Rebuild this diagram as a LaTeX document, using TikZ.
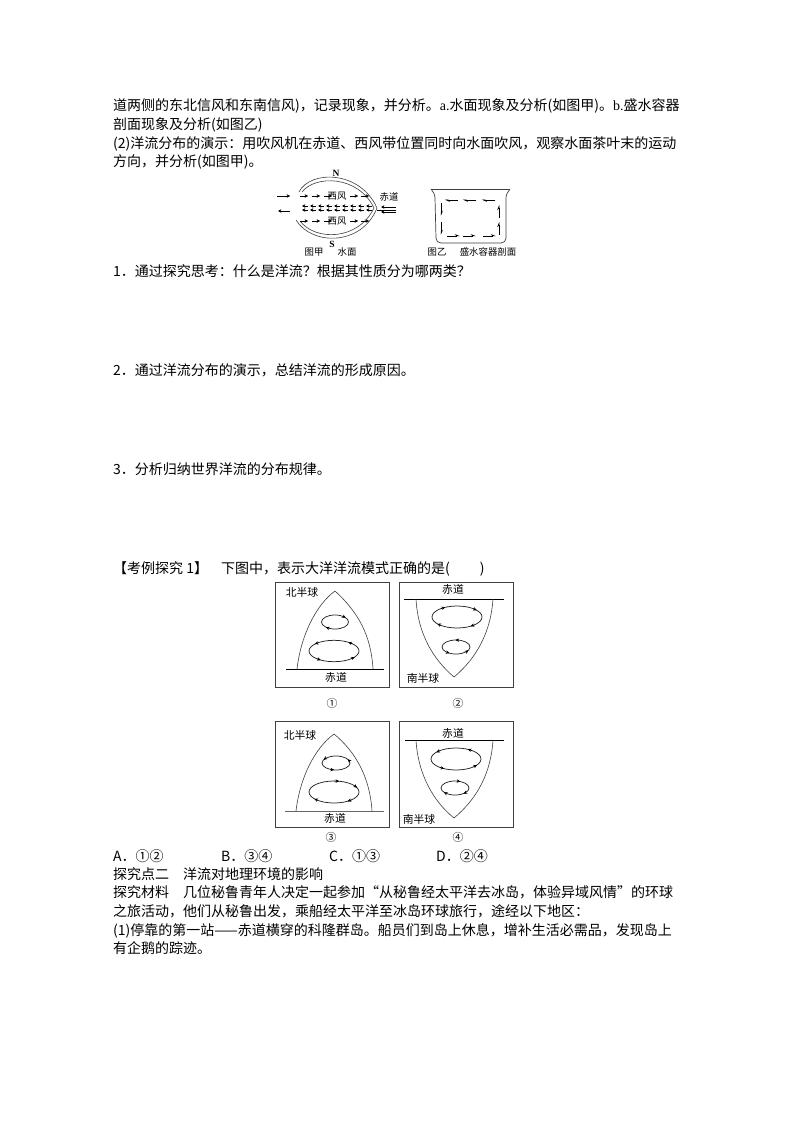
\documentclass[tikz,border=0pt]{standalone}
\usepackage{fontspec}
\setmainfont{Noto Sans CJK SC}
\newfontfamily\latf{Liberation Serif}
\newcommand{\lat}[1]{{\latf #1}}
\usetikzlibrary{arrows.meta}
\tikzset{
 txt/.style={anchor=base west,inner sep=0pt,font=\fontsize{14}{16}\selectfont},
 lab/.style={inner sep=0pt,font=\fontsize{10.8}{12}\selectfont},
 small/.style={inner sep=0pt,font=\fontsize{9.4}{11}\selectfont},
 pole/.style={inner sep=0pt,font=\fontsize{9.5}{11}\latf\bfseries\selectfont},
 panel/.style={draw=black!75,line width=0.9pt},
 coast/.style={draw=black!75,line width=0.6pt},
 eqline/.style={draw=black,line width=0.8pt},
 gyre/.style={draw=black!85,line width=0.75pt},
 flow/.style={draw=black,line width=0.45pt,-{Stealth[length=3.4pt,width=3.4pt]}},
 harp/.style={draw=black,line width=0.5pt,-{Stealth[harpoon,length=4.5pt,width=3.6pt]}},
 tipm/.style={-{Stealth[length=3.6pt,width=3.4pt]},draw=black,line width=0.5pt},
}
\newcommand{\gy}[4]{\draw[gyre] (#1,#2) ellipse [x radius=#3,y radius=#4];}
% tip running clockwise on the page
\newcommand{\gytip}[5]{\draw[tipm] ({#1+#3*cos(#5)},{#2+#4*sin(#5)}) -- ({#1+#3*cos(#5+12)},{#2+#4*sin(#5+12)});}
% tip running counter-clockwise on the page
\newcommand{\gytipb}[5]{\draw[tipm] ({#1+#3*cos(#5)},{#2+#4*sin(#5)}) -- ({#1+#3*cos(#5-12)},{#2+#4*sin(#5-12)});}
\begin{document}
\begin{tikzpicture}[x=1pt,y=-1pt]
\useasboundingbox (0,0) rectangle (794,1123);
\fill[white] (0,0) rectangle (794,1123);
% body text
\node[txt] (t1) at (113,111) {道两侧的东北信风和东南信风)，记录现象，并分析。\lat{a.}水面现象及分析(如图甲)。\lat{b.}盛水容器};
\node[txt] (t2) at (113,130) {剖面现象及分析(如图乙)};
\node[txt] (t3) at (113,149) {(2)洋流分布的演示：用吹风机在赤道、西风带位置同时向水面吹风，观察水面茶叶末的运动};
\node[txt] (t4) at (113,167) {方向，并分析(如图甲)。};
\node[txt] (t5) at (113,276) {1．通过探究思考：什么是洋流？根据其性质分为哪两类？};
\node[txt] (t6) at (113,375) {2．通过洋流分布的演示，总结洋流的形成原因。};
\node[txt] (t7) at (113,474) {3．分析归纳世界洋流的分布规律。};
\node[txt] (t8) at (113,573) {【考例探究 1】};
\node[txt] (t9) at (221,573) {下图中，表示大洋洋流模式正确的是(\hspace{30pt})};
\node[txt] (a1) at (113,861) {A．①②};
\node[txt] (a2) at (221,861) {B．③④};
\node[txt] (a3) at (329,861) {C．①③};
\node[txt] (a4) at (436,861) {D．②④};
\node[txt] (t10) at (113,879) {探究点二\hspace{14pt}洋流对地理环境的影响};
\node[txt] (t11) at (113,897) {探究材料\hspace{14pt}几位秘鲁青年人决定一起参加“从秘鲁经太平洋去冰岛，体验异域风情”的环球};
\node[txt] (t12) at (113,916) {之旅活动，他们从秘鲁出发，乘船经太平洋至冰岛环球旅行，途经以下地区：};
\node[txt] (t13) at (113,935) {(1)停靠的第一站——赤道横穿的科隆群岛。船员们到岛上休息，增补生活必需品，发现岛上};
\node[txt] (t14) at (113,953) {有企鹅的踪迹。};
% figure jia
\draw[coast] (299,192) .. controls (310,170) and (360,170) .. (377,208) .. controls (362,246) and (312,246) .. (296,220);
\draw[coast] (302,192) .. controls (315,175) and (358,175) .. (374,208) .. controls (358,241) and (315,241) .. (300,221);
\node[small] (wa) at (337,196) {西风};
\node[small] (wb) at (337,221) {西风};
\foreach \x in {300,312,324,350,361}{\draw[flow] (\x,196) -- (\x+8,196);}
\foreach \x in {300,312,324,350,361}{\draw[flow] (\x,221) -- (\x+8,221);}
\foreach \x in {308,316,324,332,340,348,356,364,372}{\draw[flow] (\x,206) -- (\x-6,206);\draw[flow] (\x,210) -- (\x-6,210);}
\node[small] (eq0) at (389,197) {赤道};
\draw[black,line width=.5pt] (377,210) -- (396,210);
\draw[flow] (396,207) -- (381,207);
\draw[flow] (396,212) -- (381,212);
\draw[flow] (277,196) -- (290,196);
\draw[flow] (290,211) -- (278,211);
\node[pole] (nn) at (336,173) {N};
\node[pole] (ss) at (332,244) {S};
\node[small] (c1) at (314,252) {图甲};
\node[small] (c2) at (347,252) {水面};
% figure yi
\draw[coast,line width=.7pt] (431,189) -- (510,189);
\draw[coast,line width=.7pt] (431,189) .. controls (433,192) and (435,194) .. (435,198) -- (436,238) .. controls (436,241) and (438,243) .. (441,243) -- (501,243) .. controls (504,243) and (506,241) .. (506,238) -- (506,198) .. controls (506,194) and (508,192) .. (510,189);
\foreach \x in {445,463,482}{\draw[harp] (\x+13,200) -- (\x,200);}
\foreach \x in {447,463,483}{\draw[harp] (\x,236) -- (\x+13,236);}
\foreach \y in {203,222}{\draw[harp] (441,\y) -- (441,\y+13);}
\foreach \y in {205,222}{\draw[harp] (499,\y+13) -- (499,\y);}
\node[small] (c3) at (437,252) {图乙};
\node[small] (c4) at (488,252) {盛水容器剖面};
% panels
\draw[panel] (275,582) rectangle (389,687);
\draw[panel] (399,582) rectangle (513,687);
\draw[panel] (275,721) rectangle (389,827);
\draw[panel] (399,721) rectangle (513,827);
% panel 1
\draw[eqline] (286,669) -- (384,669);
\draw[coast] (297,669) .. controls (301,635) and (316,605) .. (335,591) .. controls (358,612) and (371,635) .. (373,669);
\node[lab] (l1) at (302,592) {北半球};
\node[lab] (e1) at (336,677) {赤道};
\gy{335}{622}{13.5}{7}\gy{334}{651}{25}{10.7}
\gytip{335}{622}{13.5}{7}{-50}\gytip{335}{622}{13.5}{7}{120}
\gytipb{334}{651}{25}{10.7}{-128}\gytipb{334}{651}{25}{10.7}{-43}\gytipb{334}{651}{25}{10.7}{134}\gytipb{334}{651}{25}{10.7}{46}
% panel 2
\draw[eqline] (404,599) -- (504,599);
\draw[coast] (416,599) .. controls (418,635) and (434,660) .. (454,677) .. controls (478,657) and (491,630) .. (493,599);
\node[lab] (e2) at (453,589) {赤道};
\node[lab] (l2) at (423,678) {南半球};
\gy{457}{617}{25}{11}\gy{456}{647}{14}{7}
\gytip{457}{617}{25}{11}{-50}\gytip{457}{617}{25}{11}{-130}\gytip{457}{617}{25}{11}{130}\gytip{457}{617}{25}{11}{45}
\gytipb{456}{647}{14}{7}{-80}\gytipb{456}{647}{14}{7}{130}\gytipb{456}{647}{14}{7}{40}
\node[lab] (n1) at (332,703) {①};
\node[lab] (n2) at (458,703) {②};
% panel 3
\draw[draw=black!60,line width=1pt] (285,811) -- (384,811);
\draw[coast] (296,811) .. controls (300,777) and (315,748) .. (334,734) .. controls (356,752) and (370,778) .. (372,811);
\node[lab] (l3) at (300,735) {北半球};
\node[lab] (e3) at (335,818) {赤道};
\gy{336}{763}{14}{7}\gy{334}{792}{25}{11}
\gytipb{336}{763}{14}{7}{-20}\gytipb{336}{763}{14}{7}{110}\gytipb{336}{763}{14}{7}{-140}
\gytip{334}{792}{25}{11}{-90}\gytip{334}{792}{25}{11}{-35}\gytip{334}{792}{25}{11}{45}\gytip{334}{792}{25}{11}{130}
% panel 4
\draw[eqline] (405,740) -- (504,740);
\draw[coast] (416,740) .. controls (418,775) and (434,802) .. (454,818) .. controls (478,798) and (491,772) .. (493,740);
\node[lab] (e4) at (453,733) {赤道};
\node[lab] (l4) at (419,819) {南半球};
\gy{456}{759}{25}{11}\gy{455}{788}{14}{7}
\gytipb{456}{759}{25}{11}{-50}\gytipb{456}{759}{25}{11}{-130}\gytipb{456}{759}{25}{11}{130}\gytipb{456}{759}{25}{11}{45}
\gytip{455}{788}{14}{7}{-80}\gytip{455}{788}{14}{7}{130}\gytip{455}{788}{14}{7}{40}
\node[lab] (n3) at (331,837) {③};
\node[lab] (n4) at (458,837) {④};
\end{tikzpicture}
\end{document}
